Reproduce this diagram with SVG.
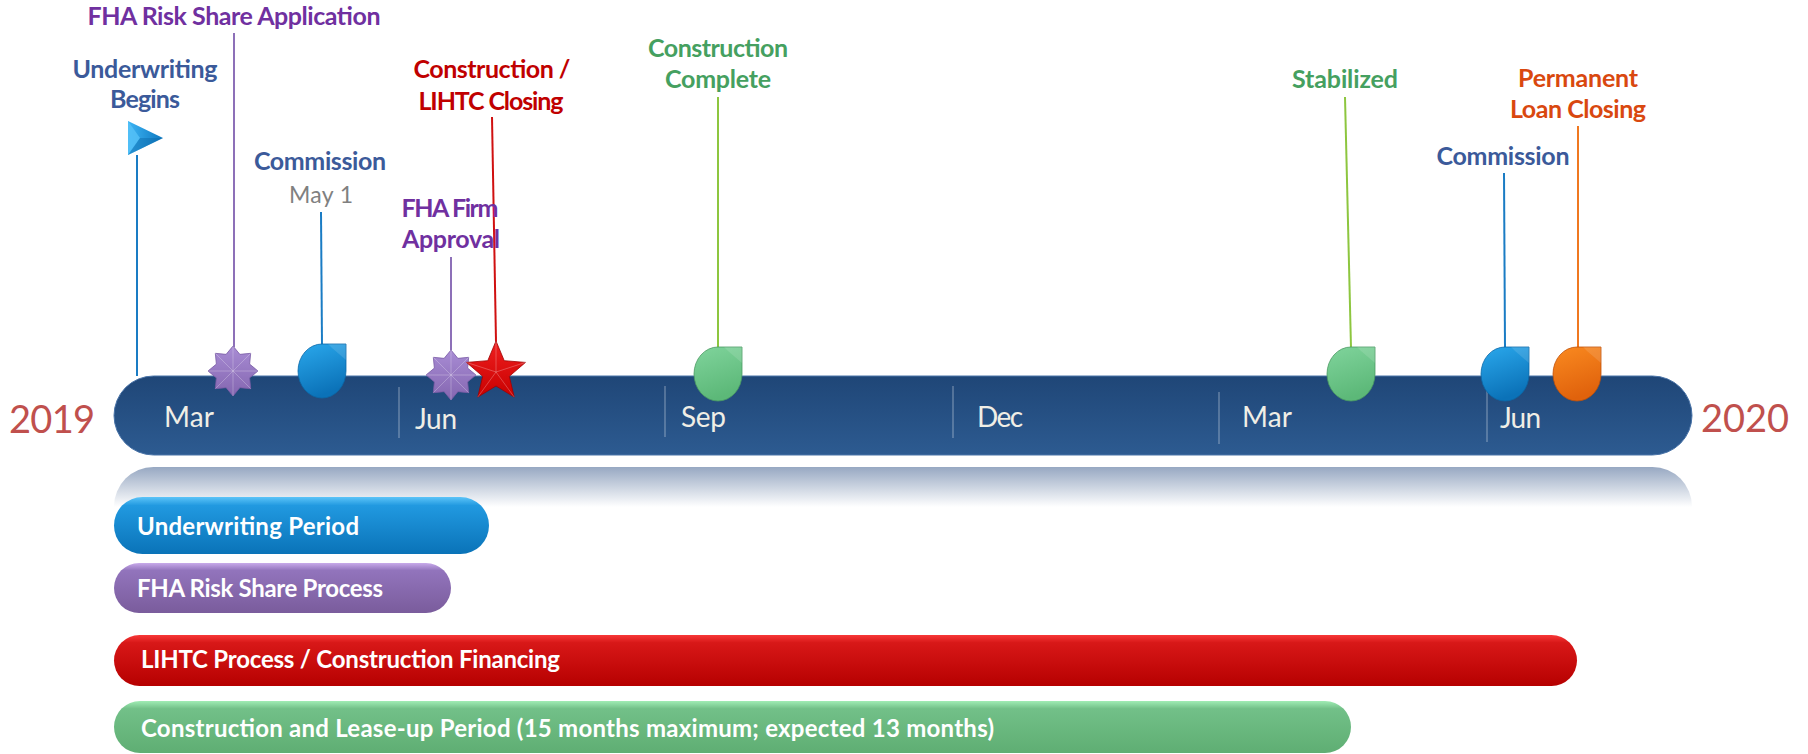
<svg xmlns="http://www.w3.org/2000/svg" xmlns:xlink="http://www.w3.org/1999/xlink" width="1808" height="754" viewBox="0 0 1808 754">
<style>
.lbl{font-family:Lato,"Liberation Sans",sans-serif;font-weight:700;font-size:25px;text-anchor:middle}
.mon{font-family:Lato,"Liberation Sans",sans-serif;font-size:28px;fill:#f0eee6}
.yr{font-family:Lato,"Liberation Sans",sans-serif;font-weight:400;font-size:38px;fill:#c0504d}
.pt{font-family:Lato,"Liberation Sans",sans-serif;font-weight:700;font-size:24px;fill:#ffffff}
.blue{fill:#3b5a9a}.purple{fill:#7030a0}.red{fill:#c00000}.green{fill:#45a060}.orange{fill:#d9480f}
.div{stroke:#ffffff;stroke-opacity:0.3;stroke-width:1.5}
.c{fill:none;stroke-width:2}
.facet{stroke:#ffffff;stroke-opacity:0.25;stroke-width:1;fill:none}
</style>
<defs>
<linearGradient id="gBar" x1="0" y1="0" x2="0" y2="1"><stop offset="0" stop-color="#1f4677"/><stop offset="1" stop-color="#2d5b91"/></linearGradient>
<linearGradient id="gRefl" x1="0" y1="0" x2="0" y2="1"><stop offset="0" stop-color="#97a8c2"/><stop offset="0.5" stop-color="#ffffff" stop-opacity="1"/><stop offset="1" stop-color="#ffffff"/></linearGradient>
<linearGradient id="gUW" x1="0" y1="0" x2="0" y2="1"><stop offset="0" stop-color="#5cc4f8"/><stop offset="0.15" stop-color="#2199e0"/><stop offset="1" stop-color="#0a73b8"/></linearGradient>
<linearGradient id="gFHA" x1="0" y1="0" x2="0" y2="1"><stop offset="0" stop-color="#c8aaea"/><stop offset="0.15" stop-color="#9274bc"/><stop offset="1" stop-color="#7a5c9c"/></linearGradient>
<linearGradient id="gRed" x1="0" y1="0" x2="0" y2="1"><stop offset="0" stop-color="#f83838"/><stop offset="0.15" stop-color="#d81818"/><stop offset="1" stop-color="#b60000"/></linearGradient>
<linearGradient id="gGrn" x1="0" y1="0" x2="0" y2="1"><stop offset="0" stop-color="#a0ecb4"/><stop offset="0.15" stop-color="#72c088"/><stop offset="1" stop-color="#5fae73"/></linearGradient>
<linearGradient id="dBlue" x1="0" y1="0" x2="0.3" y2="1"><stop offset="0" stop-color="#2aa8ec"/><stop offset="1" stop-color="#0b72b8"/></linearGradient>
<linearGradient id="dGreen" x1="0" y1="0" x2="0.3" y2="1"><stop offset="0" stop-color="#80d49c"/><stop offset="1" stop-color="#5cb878"/></linearGradient>
<linearGradient id="dOrange" x1="0" y1="0" x2="0.3" y2="1"><stop offset="0" stop-color="#fa8a20"/><stop offset="1" stop-color="#e0620c"/></linearGradient>
<linearGradient id="sPurple" x1="0" y1="0" x2="0" y2="1"><stop offset="0" stop-color="#a88cd4"/><stop offset="1" stop-color="#8466b0"/></linearGradient>
<linearGradient id="sRed" x1="0" y1="0" x2="0" y2="1"><stop offset="0" stop-color="#f02020"/><stop offset="1" stop-color="#c80000"/></linearGradient>
<linearGradient id="gFlag" x1="0" y1="0" x2="1" y2="0"><stop offset="0" stop-color="#3cb4f4"/><stop offset="1" stop-color="#0e78c0"/></linearGradient>
<path id="drop" d="M48,0 L48,27 A24,27 0 0 1 24,54 A24,27 0 0 1 0,27 A24,27 0 0 1 24,0 Z"/>
<path id="dropHi" d="M48,0 L48,16 L34,4 L30,0 Z"/>
<polygon id="star8" points="0,-25 6.89,-16.63 17.68,-17.68 16.63,-6.89 25,0 16.63,6.89 17.68,17.68 6.89,16.63 0,25 -6.89,16.63 -17.68,17.68 -16.63,6.89 -25,0 -16.63,-6.89 -17.68,-17.68 -6.89,-16.63"/>
<path id="star8f" d="M0,-25L0,25M-25,0L25,0M-17.68,-17.68L17.68,17.68M17.68,-17.68L-17.68,17.68"/>
</defs>

<g id="timeline">
<rect x="114" y="467" width="1578" height="80" rx="39.5" fill="url(#gRefl)"/>
<rect x="114" y="376" width="1578" height="79" rx="39.5" fill="url(#gBar)" stroke="#4a74a8" stroke-width="1"/>
<line class="div" x1="399" y1="387" x2="399" y2="438"/>
<line class="div" x1="665" y1="386" x2="665" y2="437"/>
<line class="div" x1="953" y1="386" x2="953" y2="438"/>
<line class="div" x1="1219" y1="392" x2="1219" y2="444"/>
<line class="div" x1="1487" y1="390" x2="1487" y2="442"/>
<text class="mon" x="164" y="427" textLength="50">Mar</text>
<text class="mon" x="415" y="429" textLength="42">Jun</text>
<text class="mon" x="681" y="427" textLength="45">Sep</text>
<text class="mon" x="977" y="427" textLength="46">Dec</text>
<text class="mon" x="1242" y="427" textLength="50">Mar</text>
<text class="mon" x="1500" y="428" textLength="41">Jun</text>
<text class="yr" x="9" y="433" textLength="86">2019</text>
<text class="yr" x="1701" y="432" textLength="88">2020</text>
</g>

<g id="connectors">
<line class="c" x1="137" y1="155" x2="137" y2="376" stroke="#1a7cc4"/>
<line class="c" x1="234" y1="33" x2="234" y2="347" stroke="#8d70b8"/>
<line class="c" x1="321" y1="212" x2="322" y2="345" stroke="#1a7cc4"/>
<line class="c" x1="451" y1="257" x2="451" y2="350" stroke="#8d70b8"/>
<line class="c" x1="492" y1="117" x2="496" y2="342" stroke="#d01010"/>
<line class="c" x1="718" y1="97" x2="718" y2="348" stroke="#8dc63f"/>
<line class="c" x1="1345" y1="97" x2="1351" y2="348" stroke="#8dc63f"/>
<line class="c" x1="1504" y1="173" x2="1505" y2="348" stroke="#1a7cc4"/>
<line class="c" x1="1578" y1="126" x2="1578" y2="348" stroke="#f07820"/>
</g>

<g id="underwriting-begins">
<text class="lbl blue" x="145" y="78" textLength="145">Underwriting</text>
<text class="lbl blue" x="145" y="108" textLength="70">Begins</text>
<polygon points="128,121 163,138 128,155" fill="url(#gFlag)"/>
<polygon points="128,121 140,138 128,155" fill="#56c2f8" opacity="0.8"/>
<polygon points="140,138 163,138 128,155" fill="#0a68a8" opacity="0.45"/>
</g>

<g id="fha-application">
<text class="lbl purple" x="234" y="25" textLength="293">FHA Risk Share Application</text>
<g transform="translate(233,371)"><use href="#star8" fill="url(#sPurple)" stroke="#7a5ca6" stroke-width="0.8"/><use href="#star8f" class="facet"/></g>
</g>

<g id="commission-1">
<text class="lbl blue" x="320" y="170" textLength="132">Commission</text>
<text x="321" y="203" text-anchor="middle" font-family="Lato,'Liberation Sans',sans-serif" font-size="23" fill="#808080" textLength="64">May 1</text>
<use href="#drop" x="298" y="344" fill="url(#dBlue)" stroke="#0a68a8" stroke-width="0.8"/>
<use href="#dropHi" x="298" y="344" fill="#ffffff" opacity="0.12"/>
</g>

<g id="fha-firm-approval">
<text class="lbl purple" x="450" y="217" textLength="97">FHA Firm</text>
<text class="lbl purple" x="451" y="248" textLength="98">Approval</text>
<g transform="translate(451,375)"><use href="#star8" fill="url(#sPurple)" stroke="#7a5ca6" stroke-width="0.8"/><use href="#star8f" class="facet"/></g>
</g>

<g id="construction-closing">
<text class="lbl red" x="492" y="78" textLength="157">Construction /</text>
<text class="lbl red" x="491" y="110" textLength="145">LIHTC Closing</text>
<g transform="translate(496,372)">
<polygon points="0,-31 8.23,-11.33 29.48,-9.58 13.31,4.33 18.22,25.08 0,14 -18.22,25.08 -13.31,4.33 -29.48,-9.58 -8.23,-11.33" fill="url(#sRed)" stroke="#a00000" stroke-width="0.8"/>
<path d="M0,-31L0,0M29.48,-9.58L0,0M18.22,25.08L0,0M-18.22,25.08L0,0M-29.48,-9.58L0,0" class="facet"/>
</g>
</g>

<g id="construction-complete">
<text class="lbl green" x="718" y="57" textLength="140">Construction</text>
<text class="lbl green" x="718" y="88" textLength="106">Complete</text>
<use href="#drop" x="694" y="347" fill="url(#dGreen)" stroke="#4a9a62" stroke-width="0.8"/>
<use href="#dropHi" x="694" y="347" fill="#ffffff" opacity="0.12"/>
</g>

<g id="stabilized">
<text class="lbl green" x="1345" y="88" textLength="106">Stabilized</text>
<use href="#drop" x="1327" y="347" fill="url(#dGreen)" stroke="#4a9a62" stroke-width="0.8"/>
<use href="#dropHi" x="1327" y="347" fill="#ffffff" opacity="0.12"/>
</g>

<g id="commission-2">
<text class="lbl blue" x="1503" y="165" textLength="133">Commission</text>
<use href="#drop" x="1481" y="347" fill="url(#dBlue)" stroke="#0a68a8" stroke-width="0.8"/>
<use href="#dropHi" x="1481" y="347" fill="#ffffff" opacity="0.12"/>
</g>

<g id="permanent-loan-closing">
<text class="lbl orange" x="1578" y="87" textLength="120">Permanent</text>
<text class="lbl orange" x="1578" y="118" textLength="136">Loan Closing</text>
<use href="#drop" x="1553" y="347" fill="url(#dOrange)" stroke="#c05008" stroke-width="0.8"/>
<use href="#dropHi" x="1553" y="347" fill="#ffffff" opacity="0.12"/>
</g>

<g id="underwriting-period">
<rect x="114" y="497" width="375" height="57" rx="28.5" fill="url(#gUW)"/>
<text class="pt" x="137" y="535" textLength="222">Underwriting Period</text>
</g>
<g id="fha-risk-share-process">
<rect x="114" y="563" width="337" height="50" rx="25" fill="url(#gFHA)"/>
<text class="pt" x="137" y="597" textLength="246">FHA Risk Share Process</text>
</g>
<g id="lihtc-process">
<rect x="114" y="635" width="1463" height="51" rx="25.5" fill="url(#gRed)"/>
<text class="pt" x="141" y="668" textLength="419">LIHTC Process / Construction Financing</text>
</g>
<g id="construction-lease-up">
<rect x="114" y="701" width="1237" height="52" rx="26" fill="url(#gGrn)"/>
<text class="pt" x="141" y="737" textLength="853">Construction and Lease-up Period (15 months maximum; expected 13 months)</text>
</g>
</svg>
